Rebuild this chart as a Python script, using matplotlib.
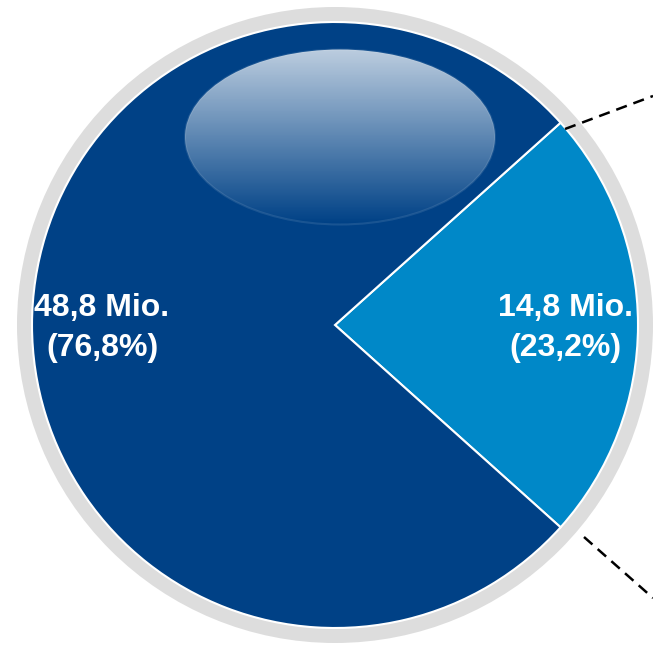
import numpy as np
import matplotlib.pyplot as plt
from matplotlib.patches import Circle, Ellipse

# data
labels_mio = ["14,8 Mio.", "48,8 Mio."]
values = [14.8, 48.8]
shares = ["23,2%", "76,8%"]
colors = ["#0088c8", "#004186"]

W, H = 653, 645
fig = plt.figure(figsize=(W / 100, H / 100), dpi=100)
ax = fig.add_axes([0, 0, 1, 1])

cx, cy = 335, 320
r = 303

# grey ring behind pie
ax.add_patch(Circle((cx, cy), 318, facecolor="#dddddd", edgecolor="none", zorder=1))

frac = values[0] / sum(values)
wedges, _ = ax.pie(values, colors=colors, startangle=-frac * 360 / 2, counterclock=True,
                   center=(cx, cy), radius=r, frame=True,
                   wedgeprops=dict(edgecolor="white", linewidth=1.5))
for w in wedges:
    w.set_zorder(2)
ax.set_xlim(0, W)
ax.set_ylim(0, H)
ax.set_aspect("equal")
ax.axis("off")

# glossy highlight
ell = Ellipse((340, H - 137), 310, 175, facecolor="none", edgecolor="none")
ax.add_patch(ell)
grad = np.zeros((100, 2, 4))
a = np.linspace(0.74, 0.0, 100)
grad[..., :3] = 1.0
grad[..., 3] = a[:, None]
im = ax.imshow(grad, extent=(185, 495, H - 225, H - 49), origin="upper",
               aspect="auto", zorder=3, interpolation="bilinear")
im.set_clip_path(ell)
ax.add_patch(Ellipse((340, H - 137), 310, 175, facecolor="none",
                     edgecolor=(1, 1, 1, 0.1), linewidth=1.5, zorder=3))

# dashed connector lines
ax.plot([565, 653], [H - 129, H - 96], color="black", linestyle=(0, (4.5, 2.8)),
        linewidth=1.8, zorder=4, clip_on=False)
ax.plot([584, 653], [H - 537, H - 598], color="black", linestyle=(0, (4.5, 2.8)),
        linewidth=1.8, zorder=4, clip_on=False)

# labels
ax.text(565, H - 328, f"{labels_mio[0]}\n({shares[0]})", ha="center", va="center",
        color="white", fontsize=23, fontweight="bold", family="Liberation Sans",
        linespacing=1.4, zorder=5)
ax.text(102, H - 328, f"{labels_mio[1]}\n({shares[1]})", ha="center", va="center",
        color="white", fontsize=23, fontweight="bold", family="Liberation Sans",
        linespacing=1.4, zorder=5)

fig.savefig("out.png", dpi=100)
